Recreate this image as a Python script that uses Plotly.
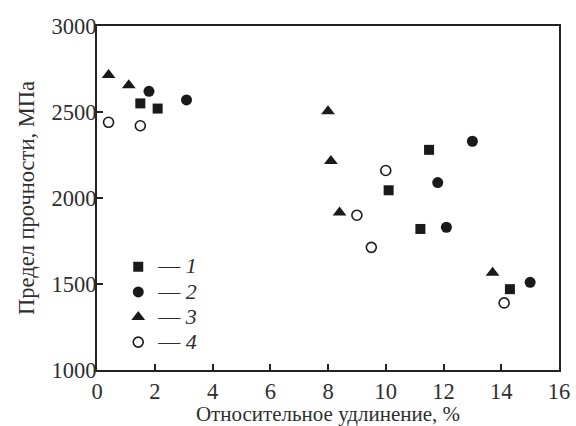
import plotly.graph_objects as go

# Series data: elongation (%) and strength (MPa)
s1_x = [1.5, 2.1, 10.1, 11.2, 11.5, 14.3]
s1_y = [2550, 2520, 2045, 1820, 2280, 1470]
s2_x = [1.8, 3.1, 11.8, 12.1, 13.0, 15.0]
s2_y = [2620, 2570, 2090, 1830, 2330, 1510]
s3_x = [0.4, 1.1, 8.0, 8.1, 8.4, 13.7]
s3_y = [2715, 2655, 2505, 2215, 1915, 1565]
s4_x = [0.4, 1.5, 9.0, 9.5, 10.0, 14.1]
s4_y = [2440, 2420, 1900, 1713, 2160, 1390]
labels = ["1", "2", "3", "4"]

x_ticks = [0, 2, 4, 6, 8, 10, 12, 14, 16]
y_ticks = [1000, 1500, 2000, 2500, 3000]

INK = "#1a1a1a"
TXT = "#2e2e2e"
FONT = "Times New Roman, Liberation Serif, serif"

fig = go.Figure()
series = [
    (s1_x, s1_y, "square", 10, INK, 0),
    (s2_x, s2_y, "circle", 11, INK, 0),
    (s3_x, s3_y, "triangle-up", 12, INK, 0),
    (s4_x, s4_y, "circle-open", 10, INK, 1.6),
]
for (xs, ys, sym, sz, col, lw), lab in zip(series, labels):
    fig.add_trace(go.Scatter(
        x=xs, y=ys, mode="markers",
        name='<span style="font-size:22px">— <i>' + lab + '</i></span>',
        marker=dict(symbol=sym, size=sz, color=col,
                    line=dict(width=lw, color=col)),
    ))

def axis(**kw):
    d = dict(
        showline=True, linecolor="#222222", linewidth=2, mirror=True,
        ticks="inside", ticklen=6, tickwidth=2, tickcolor="#222222",
        showgrid=False, zeroline=False, automargin=False,
        tickfont=dict(family=FONT, size=22.5, color=TXT),
    )
    d.update(kw)
    return d

fig.update_layout(
    width=576, height=426,
    margin=dict(l=97, r=17, t=26, b=56, autoexpand=False),
    paper_bgcolor="white", plot_bgcolor="white",
    font=dict(family=FONT, color=TXT),
    xaxis=axis(range=[0, 16], tickvals=x_ticks,
               title=dict(text="Относительное удлинение, %",
                          font=dict(family=FONT, size=21, color=TXT),
                          standoff=8)),
    yaxis=axis(range=[1000, 3000], tickvals=y_ticks, ticklabelstandoff=-6,
               title=dict(text="Предел прочности, МПа",
                          font=dict(family=FONT, size=22.5, color=TXT),
                          standoff=11)),
    legend=dict(x=0.046, y=0.351, xanchor="left", yanchor="top",
                bgcolor="rgba(0,0,0,0)", borderwidth=0,
                font=dict(family=FONT, size=17, color=TXT),
                tracegroupgap=0, itemwidth=30),
    showlegend=True,
)

fig.write_html("out.html", config={"displayModeBar": False},
               post_script="document.body.style.margin='0';")
